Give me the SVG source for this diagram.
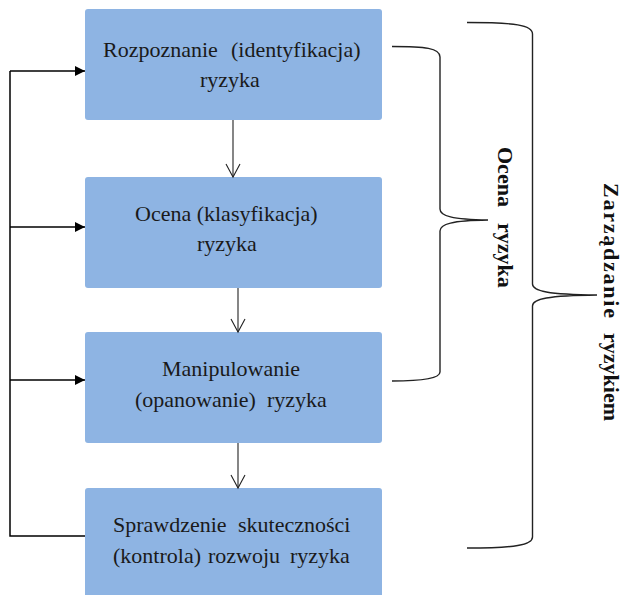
<svg xmlns="http://www.w3.org/2000/svg" width="625" height="595" viewBox="0 0 625 595">
  <style>
    .box { fill: #8EB4E3; }
    .lbl { font-family: "Liberation Serif", "Times New Roman", serif; font-size: 22px; fill: #1a1a1a; }
    .vlbl { font-family: "Liberation Serif", "Times New Roman", serif; font-size: 22px; font-weight: bold; fill: #111; }
    .feed { fill: none; stroke: #000; stroke-width: 1.5; }
    .flow { fill: none; stroke: #222; stroke-width: 1.1; }
    .brace { fill: none; stroke: #222; stroke-width: 1.4; }
  </style>
  <defs>
    <marker id="solidHead" viewBox="0 0 10 10" refX="10" refY="5" markerWidth="10" markerHeight="10" markerUnits="userSpaceOnUse" orient="auto">
      <path d="M0,0 L10,5 L0,10 Z" fill="#000"/>
    </marker>
    <marker id="openHead" viewBox="0 0 16 16" refX="14" refY="8" markerWidth="16" markerHeight="16" markerUnits="userSpaceOnUse" orient="auto">
      <path d="M1,1 L14,8 L1,15" fill="none" stroke="#222" stroke-width="1.1"/>
    </marker>
  </defs>

  <!-- process steps -->
  <g id="step-identify">
    <rect class="box" x="85" y="9" width="297" height="111" rx="3"/>
    <text class="lbl" y="57"><tspan x="103">Rozpoznanie</tspan><tspan x="231">(identyfikacja)</tspan></text>
    <text class="lbl" x="200" y="87">ryzyka</text>
  </g>
  <g id="step-assess">
    <rect class="box" x="85" y="177" width="297" height="111" rx="3"/>
    <text class="lbl" x="135" y="221">Ocena (klasyfikacja)</text>
    <text class="lbl" x="197" y="251">ryzyka</text>
  </g>
  <g id="step-handle">
    <rect class="box" x="85" y="332" width="297" height="111" rx="3"/>
    <text class="lbl" x="162" y="376">Manipulowanie</text>
    <text class="lbl" y="407"><tspan x="135">(opanowanie)</tspan><tspan x="267">ryzyka</tspan></text>
  </g>
  <g id="step-control">
    <rect class="box" x="85" y="488" width="297" height="115" rx="3"/>
    <text class="lbl" y="532"><tspan x="113">Sprawdzenie</tspan><tspan x="238">skuteczności</tspan></text>
    <text class="lbl" y="563"><tspan x="113">(kontrola)</tspan><tspan x="208">rozwoju</tspan><tspan x="290">ryzyka</tspan></text>
  </g>

  <!-- connectors -->
  <g id="connectors">
    <path class="flow" d="M233,120 L233,177" marker-end="url(#openHead)"/>
    <path class="flow" d="M238,288 L238,332" marker-end="url(#openHead)"/>
    <path class="flow" d="M238,443 L238,488" marker-end="url(#openHead)"/>
    <path class="feed" d="M85,536 L10,536 L10,71"/>
    <path class="feed" d="M10,71 L85,71" marker-end="url(#solidHead)"/>
    <path class="feed" d="M10,227 L85,227" marker-end="url(#solidHead)"/>
    <path class="feed" d="M10,380 L85,380" marker-end="url(#solidHead)"/>
  </g>

  <!-- grouping braces -->
  <g id="brace-assessment">
    <path class="brace" d="M392,46.5 C425,46.5 440,48 440,57 L440,209 C440,216 452,219.5 488,220 C452,220.5 440,224 440,231 L440,372 C440,378 425,381 392,381"/>
    <text class="vlbl" transform="translate(498,147) rotate(90)"><tspan x="0" y="0">Ocena</tspan><tspan x="76" y="0">ryzyka</tspan></text>
  </g>
  <g id="brace-management">
    <path class="brace" d="M467,22.5 C515,22.5 532.5,25 532.5,34 L532.5,284 C532.5,291 548,294.5 597,295 C548,295.5 532.5,299 532.5,306 L532.5,537 C532.5,545 515,548 467,548"/>
    <text class="vlbl" transform="translate(604,183) rotate(90)"><tspan x="0" y="0" textLength="135" lengthAdjust="spacing">Zarządzanie</tspan><tspan x="150" y="0">ryzykiem</tspan></text>
  </g>
</svg>
